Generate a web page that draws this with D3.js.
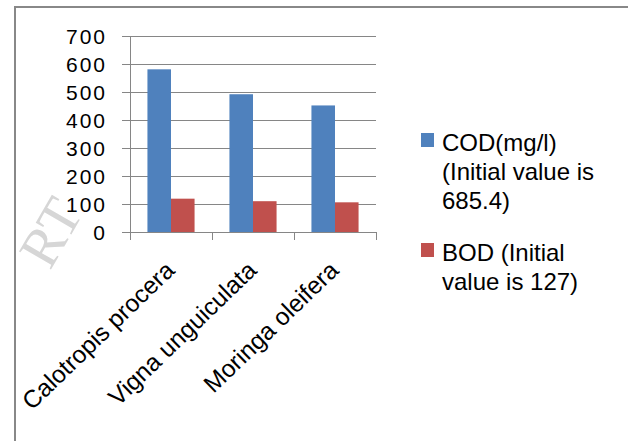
<!DOCTYPE html>
<html>
<head>
<meta charset="utf-8">
<script src="https://cdn.jsdelivr.net/npm/d3@7"></script>
<style>
  html, body { margin: 0; padding: 0; background: #fff; }
  svg { display: block; }
  text { font-family: "Liberation Sans", Arial, sans-serif; fill: #000; }
</style>
</head>
<body>
<svg id="chart" width="628" height="441"></svg>
<script>
const categories = ["Calotropis procera", "Vigna unguiculata", "Moringa oleifera"];
const codValues = [581, 492, 452];
const bodValues = [119, 110, 106];
const seriesNames = [["COD(mg/l)", "(Initial value is", "685.4)"], ["BOD (Initial", "value is 127)"]];
const seriesColors = ["#4f81bd", "#c0504d"];
const yTicks = [0, 100, 200, 300, 400, 500, 600, 700];

const svg = d3.select("#chart");

// watermark
svg.append("text")
  .attr("transform", "translate(50,232) rotate(-60)")
  .attr("text-anchor", "middle")
  .attr("dy", "0.35em")
  .style("font-family", "'Liberation Serif', 'DejaVu Serif', serif")
  .style("font-size", "56px")
  .style("fill", "#d6d6d6")
  .text("RT");

// outer border
svg.append("rect")
  .attr("x", 15).attr("y", 7).attr("width", 640).attr("height", 460)
  .attr("fill", "none").attr("stroke", "#888").attr("stroke-width", 2);

const x0 = d3.scaleBand().domain(categories).range([130, 376]).paddingInner(0).paddingOuter(0);
const y = d3.scaleLinear().domain([0, 700]).range([232, 36]);
const x1 = d3.scaleBand().domain([0, 1]).range([0, x0.bandwidth()]).paddingInner(0).paddingOuter(0.74);

// gridlines
svg.append("g").selectAll("line").data(yTicks).join("line")
  .attr("x1", 122).attr("x2", 376)
  .attr("y1", d => Math.round(y(d)) + 0.5).attr("y2", d => Math.round(y(d)) + 0.5)
  .attr("stroke", "#868686").attr("stroke-width", 1);

// y labels
svg.append("g").selectAll("text").data(yTicks).join("text")
  .attr("x", 107).attr("y", d => y(d))
  .attr("dy", "0.36em")
  .attr("text-anchor", "end")
  .attr("font-size", 21)
  .attr("letter-spacing", 2)
  .text(d => d);

// bars
const groups = svg.append("g").selectAll("g").data(categories).join("g")
  .attr("transform", d => `translate(${x0(d)},0)`);
groups.selectAll("rect").data((d, i) => [codValues[i], bodValues[i]]).join("rect")
  .attr("x", (d, j) => x1(j))
  .attr("width", x1.bandwidth())
  .attr("y", d => y(d))
  .attr("height", d => y(0) - y(d))
  .attr("fill", (d, j) => seriesColors[j]);

// y axis line
svg.append("line").attr("x1", 130.5).attr("x2", 130.5).attr("y1", 36).attr("y2", 232)
  .attr("stroke", "#868686");
// x axis ticks
svg.append("g").selectAll("line").data(x0.domain().map(d => x0(d)).concat([x0.range()[1]])).join("line")
  .attr("x1", d => Math.round(d) + 0.5).attr("x2", d => Math.round(d) + 0.5)
  .attr("y1", 232).attr("y2", 240)
  .attr("stroke", "#868686");

// category labels
svg.append("g").selectAll("text").data(categories).join("text")
  .attr("transform", d => `translate(${x0(d) + x0.bandwidth() / 2 + 5},272) rotate(-44)`)
  .attr("text-anchor", "end")
  .attr("font-size", 24.5)
  .text(d => d);

// legend
const legendTop = [142, 252];
seriesNames.forEach((lines, i) => {
  svg.append("rect")
    .attr("x", 421).attr("y", legendTop[i] - 9).attr("width", 13).attr("height", 14)
    .attr("fill", seriesColors[i]);
  lines.forEach((ln, k) => {
    svg.append("text")
      .attr("x", 442).attr("y", legendTop[i] + k * 29)
      .attr("dy", "0.36em")
      .attr("font-size", 24)
      .text(ln);
  });
});
</script>
</body>
</html>
